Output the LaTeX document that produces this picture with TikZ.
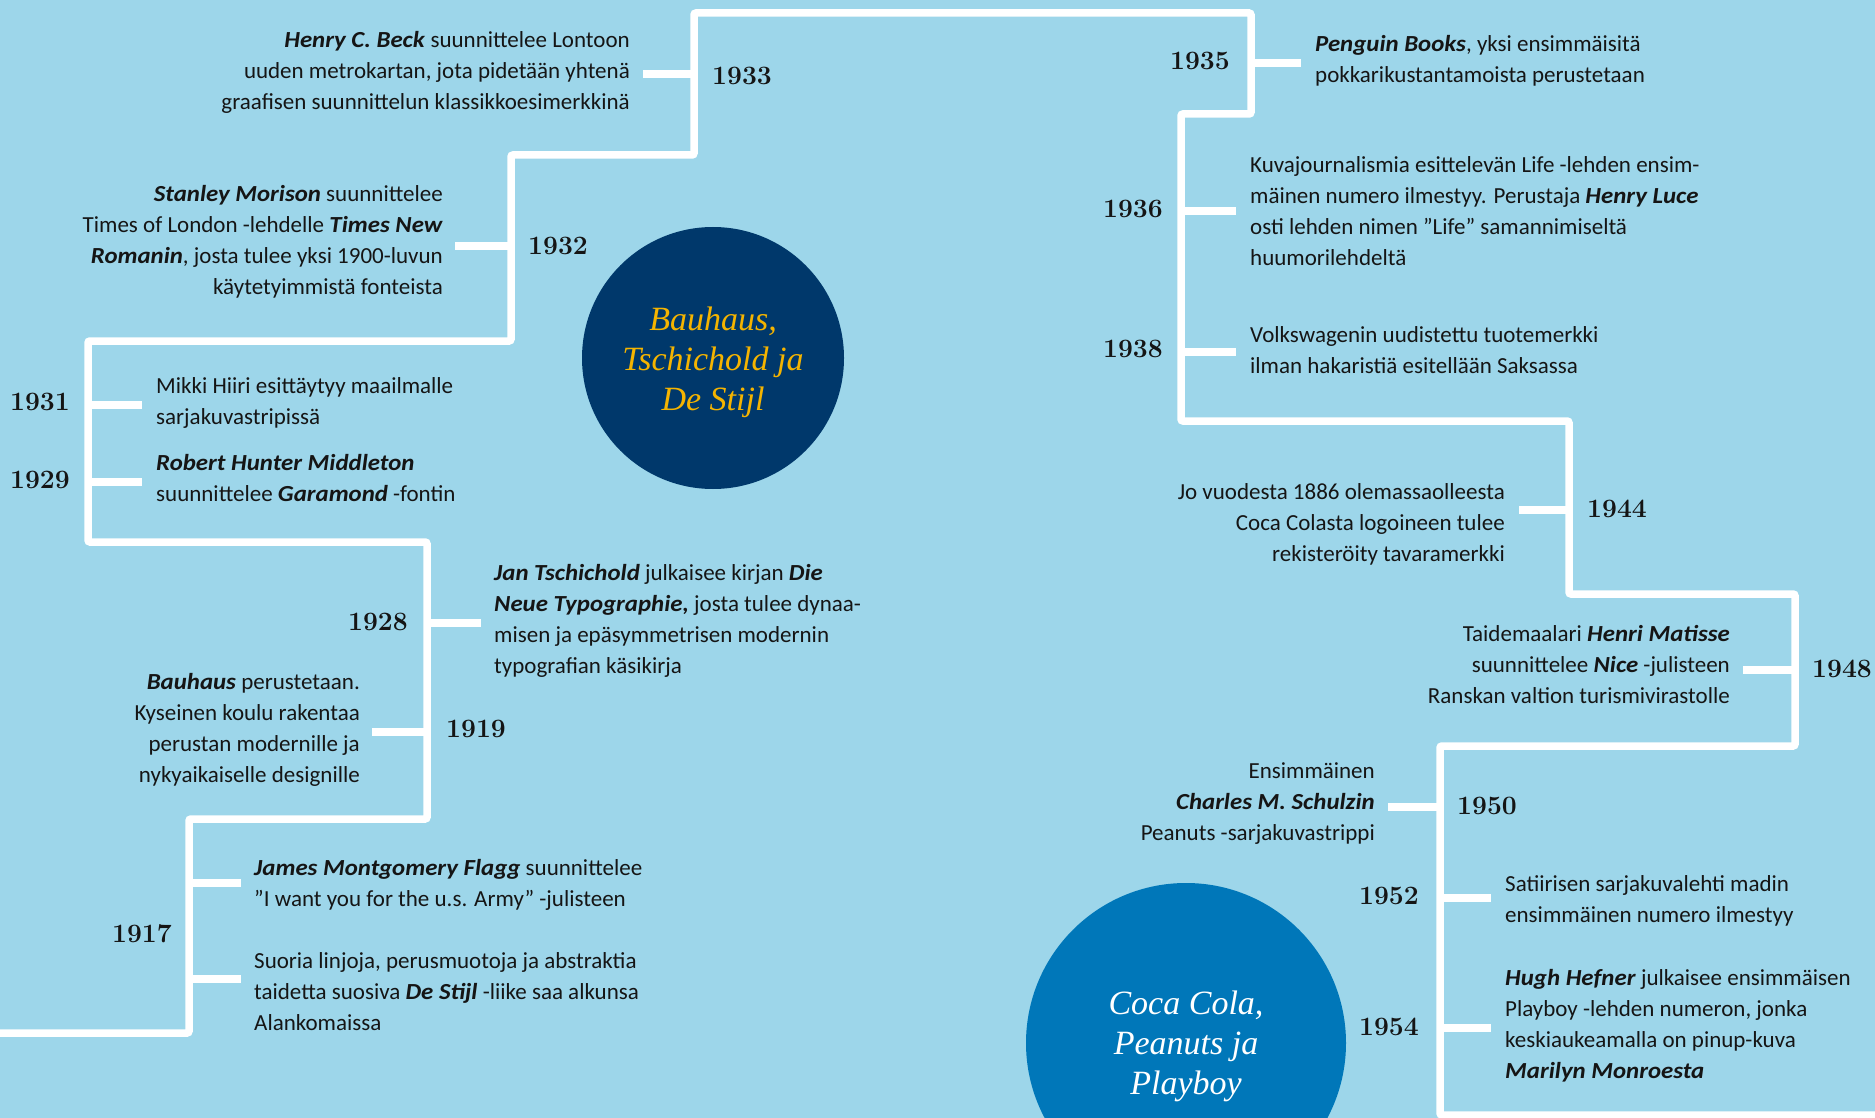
\documentclass[tikz,border=0pt]{standalone}
\usepackage{fontspec}
\newfontfamily\bodyf[BoldItalicFeatures={FakeStretch=1.08}]{Carlito}
\newfontfamily\circf{Liberation Serif}
\newcommand{\bix}[1]{\textbf{\textit{#1}}}
\definecolor{bg}{HTML}{9DD6EA}
\definecolor{navy}{HTML}{00386B}
\definecolor{gold}{HTML}{F5B400}
\definecolor{midblue}{HTML}{0077B9}
\definecolor{ink}{HTML}{151515}
\tikzset{
  tline/.style={draw=white, line width=7.5pt, rounded corners=2pt},
  tick/.style={draw=white, line width=7.5pt},
  year/.style={inner sep=0pt, font=\fontsize{26.5}{30}\selectfont\bfseries, text=ink},
  txt/.style={inner sep=0pt, font=\bodyf\fontsize{23}{31}\selectfont, text=ink},
  txtl/.style={txt, anchor=north west, align=left},
  txtr/.style={txt, anchor=north east, align=right},
  circ/.style={circle, inner sep=0pt, minimum size=#1},
  ctext/.style={font=\circf\itshape\fontsize{34}{40}\selectfont, align=center}
}
\begin{document}
\begin{tikzpicture}[x=1pt,y=-1pt]
\fill[bg] (0,0) rectangle (1875,1118);
\useasboundingbox (0,0) rectangle (1875,1118);

% circles
\node[circ=262pt, fill=navy] (c1) at (713,358) {};
\node[ctext, text=gold] (c1t) at (713,362) {Bauhaus,\\Tschichold ja\\De Stijl};
\node[circ=320pt, fill=midblue] (c2) at (1186,1043) {};
\node[ctext, text=white] (c2t) at (1186,1046) {Coca Cola,\\Peanuts ja\\Playboy};

% timeline
\coordinate (s0) at (-10,1033);
\coordinate (s1) at (1885,1115);
\draw[tline] (s0) -- (189,1033) -- (189,819) -- (427,819) -- (427,542) -- (88,542) -- (88,341)
  -- (511,341) -- (511,155) -- (694,155) -- (694,13) -- (1251,13) -- (1251,114) -- (1181,114)
  -- (1181,421) -- (1569,421) -- (1569,594) -- (1795,594) -- (1795,746) -- (1440,746) -- (1440,1115) -- (s1);

% ticks
\draw[tick] (643,74) -- (694,74);
\draw[tick] (455,246) -- (511,246);
\draw[tick] (88,405) -- (142,405);
\draw[tick] (88,482) -- (142,482);
\draw[tick] (1251,63) -- (1301,63);
\draw[tick] (1181,211) -- (1236,211);
\draw[tick] (1181,352) -- (1236,352);
\draw[tick] (1519,510) -- (1569,510);
\draw[tick] (427,623) -- (481,623);
\draw[tick] (372,732) -- (427,732);
\draw[tick] (189,883) -- (241,883);
\draw[tick] (189,979) -- (241,979);
\draw[tick] (1743,670) -- (1795,670);
\draw[tick] (1388,807) -- (1440,807);
\draw[tick] (1440,898) -- (1491,898);
\draw[tick] (1440,1028) -- (1491,1028);

% years
\node[year, anchor=west] (y1933) at (712,76) {1933};
\node[year, anchor=west] (y1932) at (528,246) {1932};
\node[year, anchor=east] (y1931) at (70,402) {1931};
\node[year, anchor=east] (y1929) at (70,480) {1929};
\node[year, anchor=east] (y1935) at (1230,61) {1935};
\node[year, anchor=east] (y1936) at (1163,209) {1936};
\node[year, anchor=east] (y1938) at (1163,349) {1938};
\node[year, anchor=west] (y1944) at (1587,509) {1944};
\node[year, anchor=east] (y1928) at (408,622) {1928};
\node[year, anchor=west] (y1919) at (446,729) {1919};
\node[year, anchor=east] (y1917) at (172,934) {1917};
\node[year, anchor=west] (y1948) at (1812,669) {1948};
\node[year, anchor=west] (y1950) at (1457,806) {1950};
\node[year, anchor=east] (y1952) at (1419,896) {1952};
\node[year, anchor=east] (y1954) at (1419,1027) {1954};

% texts
\node[txtr] (t1933) at (630,26) {\strut\bix{Henry C. Beck} suunnittelee Lontoon\\\strut uuden metrokartan, jota pidetään yhtenä\\\strut graafisen suunnittelun klassikkoesimerkkinä};
\node[txtr] (t1932) at (443,180) {\strut\bix{Stanley Morison} suunnittelee\\\strut Times of London -lehdelle \bix{Times New}\\\strut\bix{Romanin}, josta tulee yksi 1900-luvun\\\strut käytetyimmistä fonteista};
\node[txtl] (t1931) at (156,372) {\strut Mikki Hiiri esittäytyy maailmalle\\\strut sarjakuvastripissä};
\node[txtl] (t1929) at (156,449) {\strut\bix{Robert Hunter Middleton}\\\strut suunnittelee \bix{Garamond} -fontin};
\node[txtl] (t1928) at (494,559) {\strut\bix{Jan Tschichold} julkaisee kirjan \bix{Die}\\\strut\bix{Neue Typographie,} josta tulee dynaa-\\\strut misen ja epäsymmetrisen modernin\\\strut typografian käsikirja};
\node[txtr] (t1919) at (360,668) {\strut\bix{Bauhaus} perustetaan.\\\strut Kyseinen koulu rakentaa\\\strut perustan modernille ja\\\strut nykyaikaiselle designille};
\node[txtl] (t1917a) at (254,854) {\strut\bix{James Montgomery Flagg} suunnittelee\\\strut ”I want you for the u.s. Army” -julisteen};
\node[txtl] (t1917b) at (254,947) {\strut Suoria linjoja, perusmuotoja ja abstraktia\\\strut taidetta suosiva \bix{De Stijl} -liike saa alkunsa\\\strut Alankomaissa};
\node[txtl] (t1935) at (1315,30) {\strut\bix{Penguin Books}, yksi ensimmäisitä\\\strut pokkarikustantamoista perustetaan};
\node[txtl] (t1936) at (1250,151) {\strut Kuvajournalismia esittelevän Life -lehden ensim-\\\strut mäinen numero ilmestyy. Perustaja \bix{Henry Luce}\\\strut osti lehden nimen ”Life” samannimiseltä\\\strut huumorilehdeltä};
\node[txtl] (t1938) at (1250,321) {\strut Volkswagenin uudistettu tuotemerkki\\\strut ilman hakaristiä esitellään Saksassa};
\node[txtr] (t1944) at (1505,478) {\strut Jo vuodesta 1886 olemassaolleesta\\\strut Coca Colasta logoineen tulee\\\strut rekisteröity tavaramerkki};
\node[txtr] (t1948) at (1730,620) {\strut Taidemaalari \bix{Henri Matisse}\\\strut suunnittelee \bix{Nice} -julisteen\\\strut Ranskan valtion turismivirastolle};
\node[txtr] (t1950) at (1375,757) {\strut Ensimmäinen\\\strut\bix{Charles M. Schulzin}\\\strut Peanuts -sarjakuvastrippi};
\node[txtl] (t1952) at (1505,870) {\strut Satiirisen sarjakuvalehti madin\\\strut ensimmäinen numero ilmestyy};
\node[txtl] (t1954) at (1505,964) {\strut\bix{Hugh Hefner} julkaisee ensimmäisen\\\strut Playboy -lehden numeron, jonka\\\strut keskiaukeamalla on pinup-kuva\\\strut\bix{Marilyn Monroesta}};
\end{tikzpicture}
\end{document}
